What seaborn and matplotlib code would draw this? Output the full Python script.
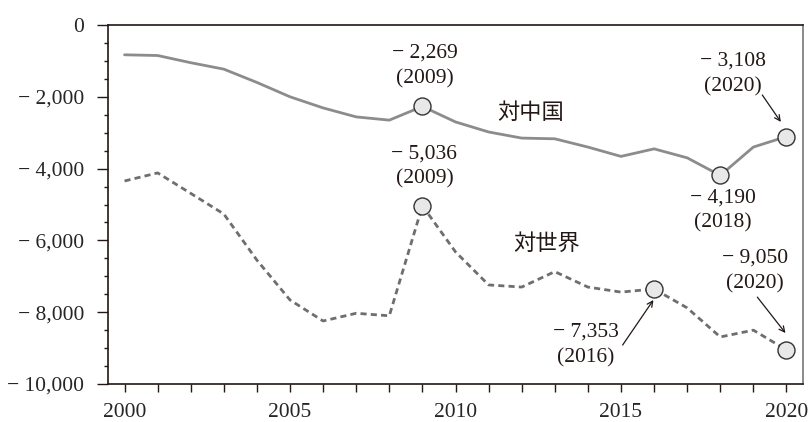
import matplotlib
matplotlib.use("Agg")
import matplotlib.pyplot as plt
import matplotlib.ticker as mticker
import seaborn as sns
import pandas as pd

years = list(range(2000, 2021))
china = [-830, -850, -1050, -1230, -1600, -2000, -2310, -2560, -2650, -2269,
         -2700, -2980, -3150, -3170, -3400, -3660, -3450, -3700, -4190, -3400, -3108]
world = [-4345, -4120, -4690, -5265, -6550, -7660, -8245, -8030, -8100, -5036,
         -6320, -7240, -7300, -6870, -7300, -7440, -7353, -7880, -8690, -8500, -9050]

# highlighted points
hl_series = ["china", "china", "china", "world", "world", "world"]
hl_years = [2009, 2018, 2020, 2009, 2016, 2020]
hl_values = [-2269, -4190, -3108, -5036, -7353, -9050]

yticks = [0, -2000, -4000, -6000, -8000, -10000]
xticks = [2000, 2005, 2010, 2015, 2020]

df = pd.DataFrame({"year": years, "china": china, "world": world})
hl = pd.DataFrame({"series": hl_series, "year": hl_years, "value": hl_values})

sns.set_style("ticks")
serif = ["Liberation Serif", "DejaVu Serif"]
cjk = ["Noto Sans CJK JP", "DejaVu Sans"]
plt.rcParams["font.family"] = serif

fig = plt.figure(figsize=(8.08, 4.22), dpi=100)
ax = fig.add_axes([108 / 808, 1 - 384 / 422, (803 - 108) / 808, (384 - 25) / 422])

sns.lineplot(data=df, x="year", y="china", ax=ax, color="#8c8c8c", linewidth=2)
sns.lineplot(data=df, x="year", y="world", ax=ax, color="#6e6e6e", linewidth=2,
             linestyle=(0, (2.2, 1.5)))
sns.scatterplot(data=hl, x="year", y="value", ax=ax, s=150, color="#e8e8e8",
                edgecolor="#333333", linewidth=1, zorder=5)

ax.set_xlim(1999.5, 2020.5)
ax.set_ylim(-10000, 0)
ax.set_xticks(xticks)
ax.set_yticks(yticks)
ax.yaxis.set_minor_locator(mticker.MultipleLocator(500))


def fmt(v):
    if v == 0:
        return "0"
    return "\u2212 " + f"{abs(int(v)):,}"


ax.yaxis.set_major_formatter(mticker.FuncFormatter(lambda v, p: fmt(v)))
ax.tick_params(axis="y", which="major", length=8, width=1, color="#231815",
               labelsize=15.5, pad=9)
ax.tick_params(axis="y", which="minor", length=3, width=1, color="#231815")
ax.tick_params(axis="x", which="major", length=6, width=1, color="#231815",
               labelsize=15.5, pad=8)
ax.set_xticks(years, minor=True)
ax.tick_params(axis="x", which="minor", length=6, width=1, color="#231815")
ax.set_xlabel("")
ax.set_ylabel("")

for side in ["left", "top", "bottom"]:
    ax.spines[side].set_color("#231815")
    ax.spines[side].set_linewidth(1.2)
ax.spines["right"].set_color("#777777")
ax.spines["right"].set_linewidth(1.2)

tfs = 15.5
labels = [
    (2009.06, -1142, -2269, 2009),
    (2009.06, -3941, -5036, 2009),
    (2018.07, -5167, -4190, 2018),
    (2018.37, -1365, -3108, 2020),
    (2019.06, -6852, -9050, 2020),
    (2013.93, -8914, -7353, 2016),
]
for x, y, v, yr in labels:
    ax.text(x, y, fmt(v) + f"\n({yr})", ha="center", va="center",
            fontsize=tfs, linespacing=1.45, color="#231815")

arrows = [
    ((2019.27, -1950), (2019.83, -2700)),
    ((2019.12, -7580), (2019.97, -8580)),
    ((2015.05, -8914), (2015.98, -7660)),
]
for start, end in arrows:
    ax.annotate("", xy=end, xytext=start,
                arrowprops=dict(arrowstyle="->", color="#231815", lw=0.9,
                                shrinkA=0, shrinkB=0))

ax.text(2012.27, -2423, "対中国", ha="center", va="center", fontsize=16,
        family=cjk, color="#231815")
ax.text(2012.75, -6072, "対世界", ha="center", va="center", fontsize=16,
        family=cjk, color="#231815")

fig.savefig("out.png", dpi=100)
